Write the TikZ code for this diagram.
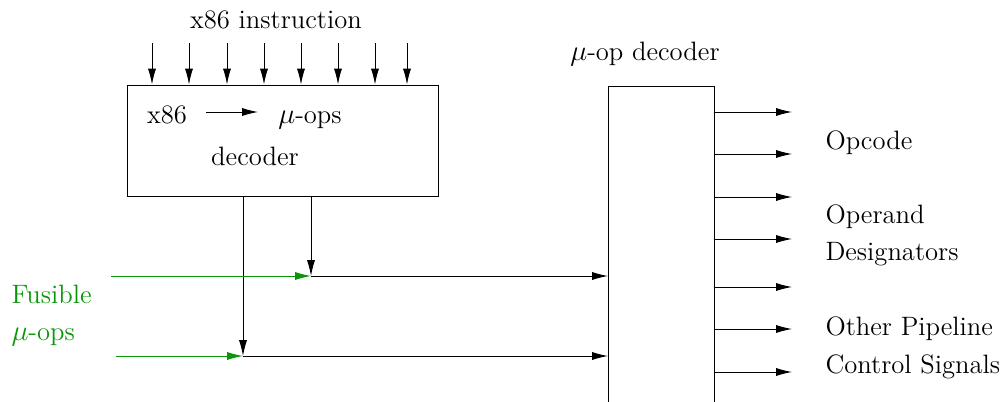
\documentclass[tikz,border=0pt]{standalone}
\usetikzlibrary{arrows.meta}
\definecolor{fusegreen}{RGB}{10,150,10}
\begin{document}
\begin{tikzpicture}[x=0.5pt,y=-0.5pt,
  line width=0.5pt,
  font=\fontsize{13.3}{15}\selectfont,
  arr/.style={-{Latex[length=8pt,width=4.1pt]}},
  lbl/.style={inner sep=0pt,anchor=base},
  lblw/.style={inner sep=0pt,anchor=base west}]
\useasboundingbox (0,0) rectangle (1003,402);

% x86 -> micro-op decoder block
\node[draw,inner sep=0pt,minimum width=155.5pt,minimum height=55.5pt] (dec) at (282.5,140.5) {};
\node[lbl] (title) at (276,28) {x86 instruction};
\foreach \i/\x in {1/152,2/189,3/227,4/264,5/301,6/338,7/375,8/407}{
  \coordinate (in\i) at (\x,43);
  \draw[arr] (in\i) -- (in\i |- dec.north);
}
\node[lbl] (tx86) at (167,123) {x86};
\node[lbl] (tuops) at (310,123) {$\mu$-ops};
\node[lbl] (tdec) at (255,165) {decoder};
\coordinate (ia) at (206,112);
\coordinate (ib) at (258,112);
\draw[arr] (ia) -- (ib);

% micro-op decoder block, open at the bottom
\coordinate (ua) at (608,404);
\coordinate (ub) at (608,86);
\coordinate (uc) at (714,86);
\coordinate (ud) at (714,404);
\draw (ua) -- (ub) -- (uc) -- (ud);
\node[lbl] (utitle) at (645,60) {$\mu$-op decoder};

% paths from the x86 decoder into the micro-op decoder
\coordinate (ja) at (311,276);
\coordinate (jb) at (243,356);
\draw[arr] (dec.south -| ja) -- (ja);
\draw[arr] (dec.south -| jb) -- (jb);
\draw[arr] (ja) -- (ja -| ua);
\draw[arr] (jb) -- (jb -| ua);

% fusible micro-ops
\coordinate (fa) at (111,276);
\coordinate (fb) at (116,356);
\draw[arr,fusegreen] (fa) -- (ja);
\draw[arr,fusegreen] (fb) -- (jb);
\node[lblw,text=fusegreen] (ffus) at (11,303) {Fusible};
\node[lblw,text=fusegreen] (fuops) at (11,340) {$\mu$-ops};

% outputs
\foreach \i/\y in {1/112,2/154,3/197,4/239,5/287,6/329,7/372}{
  \coordinate (o\i) at (792,\y);
  \draw[arr] (o\i -| uc) -- (o\i);
}
\node[lblw] (lop) at (825,149) {Opcode};
\node[lblw] (lopd) at (825,223) {Operand};
\node[lblw] (ldes) at (825,260) {Designators};
\node[lblw] (loth) at (825,335) {Other Pipeline};
\node[lblw] (lctl) at (825,373) {Control Signals};
\end{tikzpicture}
\end{document}
